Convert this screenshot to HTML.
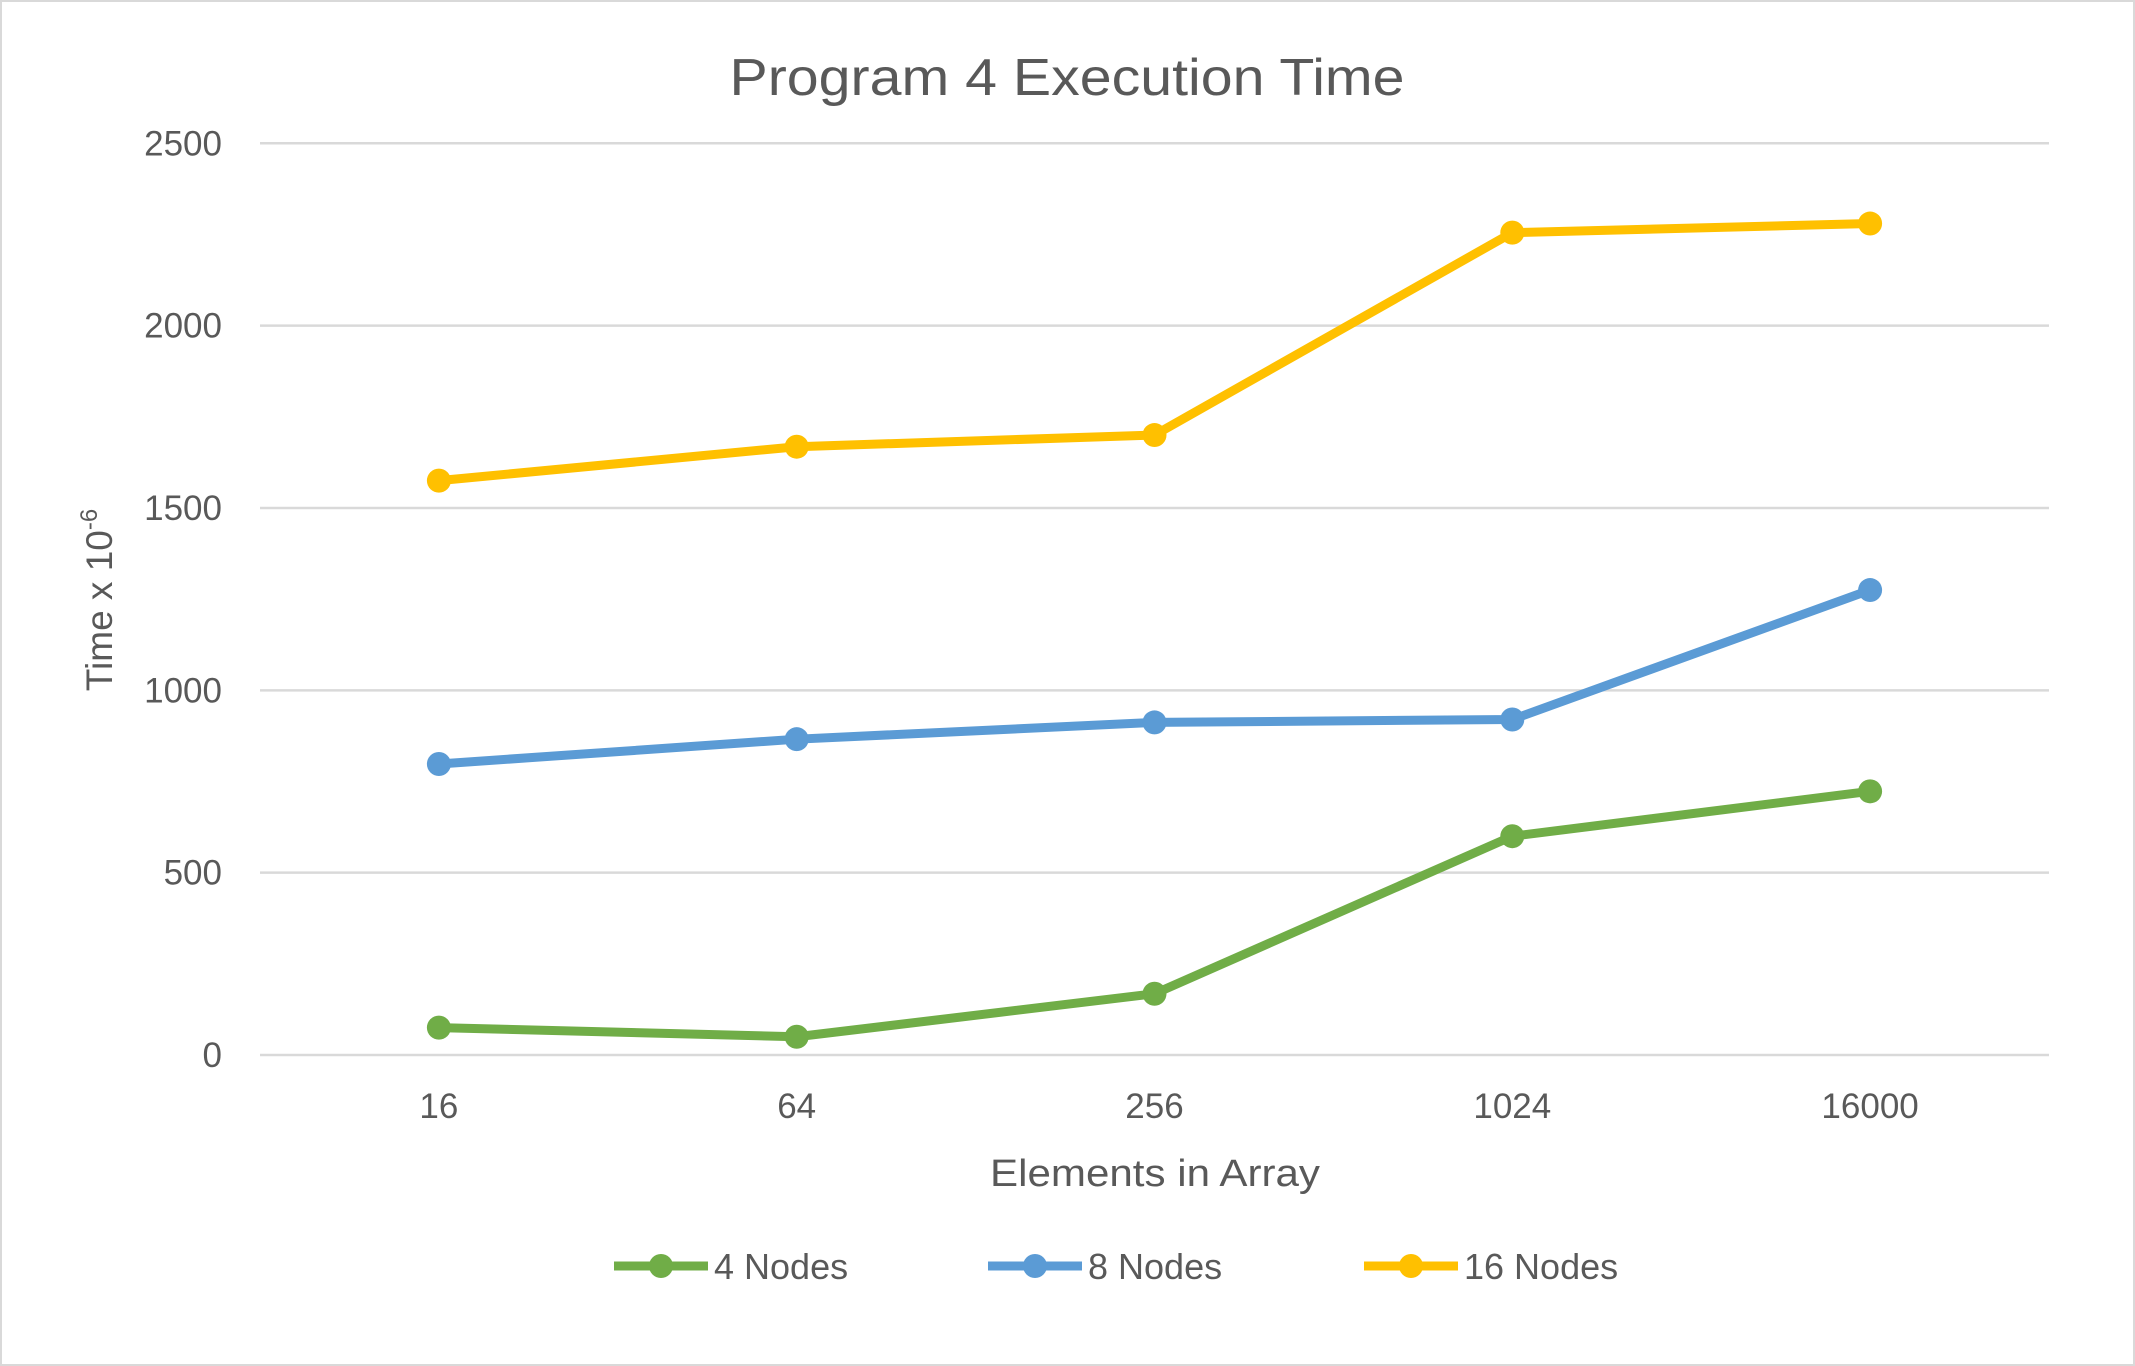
<!DOCTYPE html>
<html><head><meta charset="utf-8"><style>
html,body{margin:0;padding:0;background:#fff;}
svg{display:block;font-family:"Liberation Sans",sans-serif;}
</style></head><body>
<svg id="chart" width="2135" height="1366" viewBox="0 0 2135 1366">
<rect x="1" y="1" width="2133" height="1364" fill="#fff" stroke="#d9d9d9" stroke-width="2"/>
<text x="1067" y="95" text-anchor="middle" font-size="52" fill="#595959" textLength="675" lengthAdjust="spacingAndGlyphs">Program 4 Execution Time</text>
<g id="grid"></g>
<g id="yticks"></g>
<g id="xticks"></g>
<text transform="translate(112,600) rotate(-90)" text-anchor="middle" font-size="37" fill="#595959">Time x 10<tspan dy="-15" font-size="24">-6</tspan></text>
<text x="1155" y="1186" text-anchor="middle" font-size="38" fill="#595959" textLength="330" lengthAdjust="spacingAndGlyphs">Elements in Array</text>
<g id="series"></g>
<g id="legend"></g>
</svg>
<script>
const categories = ["16","64","256","1024","16000"];
const yTicks = [0,500,1000,1500,2000,2500];
const seriesNames = ["4 Nodes","8 Nodes","16 Nodes"];
const nodes4 = [75,50,168,600,723];
const nodes8 = [798,866,912,920,1275];
const nodes16 = [1575,1668,1700,2255,2280];
const colors = ["#70ad47","#5b9bd5","#ffc000"];

const NS="http://www.w3.org/2000/svg";
const L=260,R=2049,T=143.3,B=1055;
const yMax=2500;
function ys(v){return B-(v/yMax)*(B-T);}
function xs(i){const w=(R-L)/categories.length;return L+w*(i+0.5);}
function mk(tag,attrs,parent){const e=document.createElementNS(NS,tag);for(const k in attrs)e.setAttribute(k,attrs[k]);parent.appendChild(e);return e;}

const grid=document.getElementById('grid'),yt=document.getElementById('yticks'),xt=document.getElementById('xticks');
yTicks.forEach(v=>{
  const ln=mk('line',{x1:L,x2:R,y1:ys(v),y2:ys(v),stroke:'#d9d9d9','stroke-width':2.5},grid);
  
  
  const t=mk('text',{x:222,y:ys(v)+12,'text-anchor':'end','font-size':35,fill:'#595959'},yt);
  t.textContent=v;
  
  
});
categories.forEach((c,i)=>{
  const t=mk('text',{x:xs(i),y:1118,'text-anchor':'middle','font-size':35,fill:'#595959'},xt);
  t.textContent=c;
  
  
});
const sg=document.getElementById('series');
[nodes4,nodes8,nodes16].forEach((d,si)=>{
  const g=mk('g',{},sg);
  
  
  const pts=d.map((v,i)=>xs(i)+','+ys(v)).join(' ');
  const pl=mk('polyline',{points:pts,fill:'none',stroke:colors[si],'stroke-width':9,'stroke-linejoin':'round','stroke-linecap':'round'},g);
  
  
  d.forEach((v,i)=>{
    const c=mk('circle',{cx:xs(i),cy:ys(v),r:12,fill:colors[si]},g);
    
    
  });
});
const lg=document.getElementById('legend');
const lx=[614,988,1364];
seriesNames.forEach((n,i)=>{
  const g=mk('g',{},lg);
  
  
  mk('line',{x1:lx[i],x2:lx[i]+94,y1:1266,y2:1266,stroke:colors[i],'stroke-width':9},g);
  mk('circle',{cx:lx[i]+47,cy:1266,r:12,fill:colors[i]},g);
  const t=mk('text',{x:lx[i]+100,y:1279,'font-size':36,fill:'#595959'},g);
  t.textContent=n;
});
</script>
</body></html>
